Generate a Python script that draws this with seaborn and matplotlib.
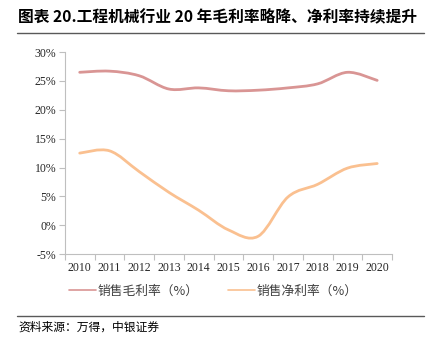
import numpy as np
import pandas as pd
import matplotlib
matplotlib.use("Agg")
import matplotlib.pyplot as plt
from matplotlib.path import Path
from matplotlib.patches import PathPatch
from matplotlib.lines import Line2D
import seaborn as sns

years = [2010, 2011, 2012, 2013, 2014, 2015, 2016, 2017, 2018, 2019, 2020]
gross_margin = [26.5, 26.7, 25.9, 23.6, 23.8, 23.3, 23.4, 23.8, 24.5, 26.5, 25.1]
net_margin = [12.5, 12.9, 9.3, 5.7, 2.6, -0.8, -1.9, 4.9, 7.1, 9.9, 10.7]
series_names = ["销售毛利率（%）", "销售净利率（%）"]
colors = ["#D99594", "#FAC090"]
yticks = [-5, 0, 5, 10, 15, 20, 25, 30]

sns.set_theme(style="white")
plt.rcParams["font.family"] = ["Liberation Serif", "Noto Sans CJK SC"]
cjk = ["Noto Sans CJK SC", "DejaVu Sans"]

df = pd.DataFrame({"idx": range(len(years)), "year": years,
                   series_names[0]: gross_margin, series_names[1]: net_margin})
df_long = df.melt(id_vars=["idx", "year"], var_name="series", value_name="value")

fig = plt.figure(figsize=(4.41, 3.52), dpi=100)
ax = fig.add_axes([0.147, 0.278, 0.742, 0.574])

sns.lineplot(data=df_long, x="idx", y="value", hue="series", palette=colors,
             ax=ax, legend=False)


def smooth_path(xs, ys):
    # Catmull-Rom style bezier (like a spreadsheet "smoothed line")
    pts = np.column_stack([xs, ys])
    verts = [pts[0]]
    codes = [Path.MOVETO]
    n = len(pts)
    for i in range(n - 1):
        p0 = pts[i - 1] if i > 0 else pts[i]
        p1 = pts[i]
        p2 = pts[i + 1]
        p3 = pts[i + 2] if i + 2 < n else pts[i + 1]
        c1 = p1 + (p2 - p0) / 6.0
        c2 = p2 - (p3 - p1) / 6.0
        verts += [c1, c2, p2]
        codes += [Path.CURVE4] * 3
    return Path(verts, codes)


# replace the straight segments with smoothed curves
for line, col in zip(list(ax.lines), colors):
    xs, ys = line.get_data()
    line.set_visible(False)
    ax.add_patch(PathPatch(smooth_path(np.asarray(xs, float), np.asarray(ys, float)),
                           facecolor="none", edgecolor=col, lw=2.0,
                           capstyle="round", joinstyle="round"))

ax.set_xlim(-0.5, len(years) - 0.5)
ax.set_ylim(-5, 30)
ax.set_yticks(yticks)
ax.set_yticklabels([f"{v}%" for v in yticks])
ax.set_xticks(range(len(years)))
ax.set_xticklabels([str(y) for y in years])
ax.set_xticks(np.arange(-0.5, len(years), 1.0), minor=True)
ax.set_xlabel("")
ax.set_ylabel("")

for s in ["top", "right"]:
    ax.spines[s].set_visible(False)
for s in ["left", "bottom"]:
    ax.spines[s].set_color("#BFBFBF")
    ax.spines[s].set_linewidth(0.8)

ax.tick_params(axis="x", which="major", length=0, labelsize=8.5, colors="#262626", pad=6)
ax.tick_params(axis="x", which="minor", bottom=True, length=4, width=0.8, color="#BFBFBF")
ax.tick_params(axis="y", left=True, length=4, width=0.8, color="#BFBFBF",
               labelsize=8.5, labelcolor="#262626", pad=2)

handles = [Line2D([0], [0], color=c, lw=1.2) for c in colors]
fig.legend(handles, series_names, loc="center", bbox_to_anchor=(0.484, 0.172),
           ncol=2, frameon=False, prop={"family": cjk, "size": 9.2},
           handlelength=2.1, handletextpad=0.15, columnspacing=2.3,
           labelcolor="#404040")

# title and rules
fig.text(0.04, 0.952, "图表 20.工程机械行业 20 年毛利率略降、净利率持续提升",
         family=cjk, fontsize=11.3, fontweight="bold", color="#000000",
         va="center", ha="left")
fig.add_artist(Line2D([0.038, 0.962], [0.906, 0.906], color="#595959", lw=1.0))
fig.add_artist(Line2D([0.038, 0.962], [0.102, 0.102], color="#595959", lw=1.0))
fig.text(0.042, 0.07, "资料来源：万得，中银证券", family=cjk, fontsize=8.5,
         color="#000000", va="center", ha="left")

fig.savefig("out.png", dpi=100)
plt.close(fig)
